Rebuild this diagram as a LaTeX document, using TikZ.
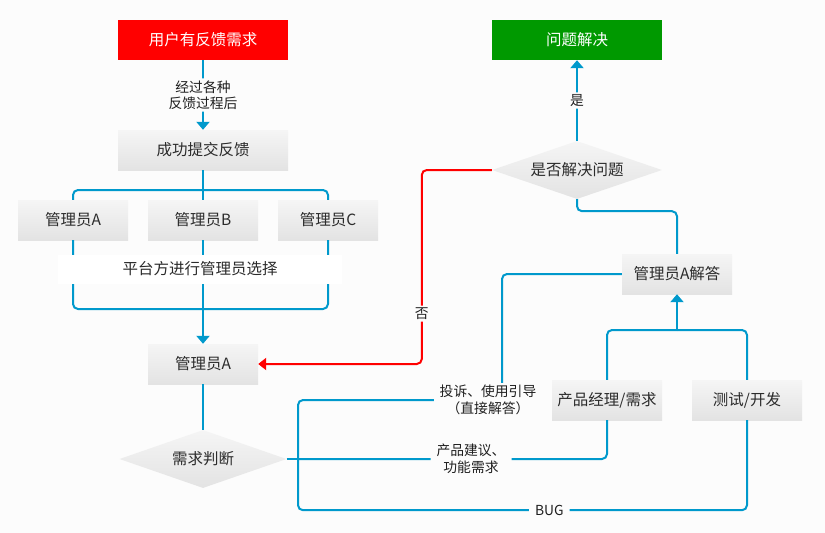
\documentclass[tikz,border=0pt]{standalone}
\usepackage{fontspec}
\newfontfamily\cjk{Noto Sans CJK SC}
\usepackage{xcolor}
\definecolor{ink}{HTML}{2B2B2B}
\definecolor{wire}{HTML}{0099CC}
\definecolor{alarm}{HTML}{FF0000}
\definecolor{okgreen}{HTML}{009900}
\definecolor{paper}{HTML}{FCFCFC}
\definecolor{boxtop}{HTML}{F5F5F5}
\definecolor{boxbot}{HTML}{E3E3E3}
\usetikzlibrary{arrows.meta,shapes.geometric,calc}
\tikzset{
  font=\cjk\fontsize{15.5}{18}\selectfont,
  box/.style={minimum width=110pt,minimum height=40pt,inner sep=0pt,text=ink,
              top color=boxtop,bottom color=boxbot},
  endbox/.style={minimum width=170pt,minimum height=40pt,inner sep=0pt,text=white},
  decide/.style={diamond,aspect=3,inner sep=0pt,minimum width=170pt,minimum height=58pt,
                 text=ink,top color=boxtop,bottom color=boxbot},
  band/.style={fill=white,text=ink,minimum width=284pt,minimum height=29pt,inner sep=0pt},
  flow/.style={draw=wire,line width=2pt,rounded corners=5pt},
  flowa/.style={flow,-{Triangle[width=13pt,length=8pt]}},
  back/.style={draw=alarm,line width=2pt,rounded corners=5pt,-{Triangle[width=12pt,length=8pt]}},
  lbl/.style={font=\cjk\fontsize{13.8}{16.5}\selectfont,text=black!88,fill=paper,
              align=center,inner xsep=6pt,inner ysep=2pt},
}

\begin{document}
\begin{tikzpicture}[x=1pt,y=1pt]
  \fill[paper] (0,0) rectangle (825,-533);
  \useasboundingbox (0,0) rectangle (825,-533);

  % left column
  \node[endbox,fill=alarm] (user) at (203,-40) {用户有反馈需求};
  \node[box,minimum width=170pt] (submit) at (203,-150) {成功提交反馈};
  \node[box] (mA) at (73,-220) {管理员A};
  \node[box] (mB) at (203,-220) {管理员B};
  \node[box,minimum width=100pt] (mC) at (328,-220) {管理员C};
  \node[box] (admin) at (203,-364) {管理员A};
  \node[decide,minimum width=167pt] (judge) at (203,-459) {需求判断};

  % right column
  \node[endbox,fill=okgreen] (solved) at (577,-40) {问题解决};
  \node[decide] (ask) at (577,-170) {是否解决问题};
  \node[box] (answer) at (677,-274) {管理员A解答};
  \node[box] (pm) at (607,-400) {产品经理/需求};
  \node[box] (test) at (747,-400) {测试/开发};

  \coordinate (fork) at (203,-190);
  \coordinate (join) at (203,-309);
  \coordinate (hub) at (298,-459);
  \coordinate (cq) at (502,-400);
  \coordinate (merge) at (677,-330);

  \draw[flowa] (user) -- node[lbl] (via) {经过各种\\反馈过程后} (submit);
  \draw[flow] (submit) -- (fork);
  \draw[flow] (mA.north) |- (fork) -| (mC.north);
  \draw[flow] (fork) -- (mB.north);
  \draw[flow] (mA.south) |- (join) -| (mC.south);
  \draw[flow] (mB.south) -- (join);
  \draw[flowa] (join) -- (admin);
  \node[band] (pick) at (200,-269) {平台方进行管理员选择};

  \draw[flow] (admin) -- (judge);
  \draw[flow] (judge.east) -- (hub);
  \draw[flow] (hub) |- (cq) |- (answer.west);
  \node[lbl] (qlbl) at (488,-400) {投诉、使用引导\\（直接解答）};
  \draw[flow] (hub) -| node[lbl,pos=0.28] (plbl) {产品建议、\\功能需求} (pm.south);
  \draw[flow] (hub) |- node[lbl,pos=0.78] (blbl) {BUG} ($(test.south)+(0,-90)$) -- (test.south);

  \draw[flow] (pm.north) |- (merge);
  \draw[flow] (test.north) |- (merge);
  \draw[flowa] (merge) -- (answer.south);
  \draw[flow] (answer.north) |- ($(ask.south)+(0,-12)$) -- (ask.south);
  \draw[flowa] (ask) -- node[lbl] (yes) {是} (solved);
  \draw[back] (ask.west) -- ++(-70,0) |- node[lbl,pos=0.37] (no) {否} (admin.east);
\end{tikzpicture}
\end{document}
